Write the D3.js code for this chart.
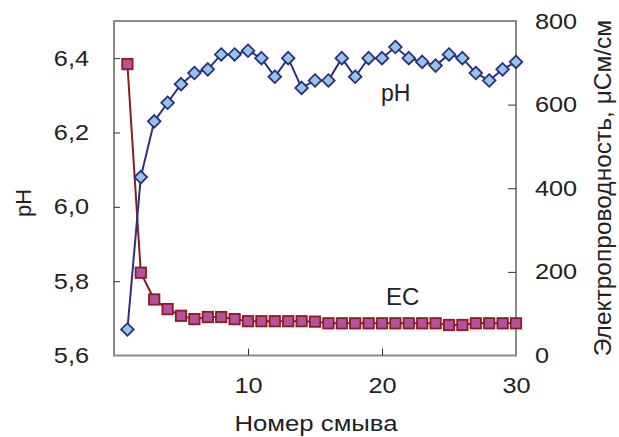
<!DOCTYPE html>
<html>
<head>
<meta charset="utf-8">
<script src="https://cdn.jsdelivr.net/npm/d3@7"></script>
<style>
  html, body { margin: 0; padding: 0; background: #fff; }
  svg text { font-family: "Liberation Sans", Arial, sans-serif; fill: #222; }
</style>
</head>
<body>
<svg id="chart" width="619" height="437"></svg>
<script>
// Rinse number (номер смыва)
const rinse = d3.range(1, 31);
// pH after each rinse
const phValues = [5.67, 6.08, 6.23, 6.28, 6.33, 6.36, 6.37, 6.41, 6.41, 6.42,
                  6.40, 6.35, 6.40, 6.32, 6.34, 6.34, 6.40, 6.35, 6.40, 6.40,
                  6.43, 6.40, 6.39, 6.38, 6.41, 6.40, 6.36, 6.34, 6.37, 6.39];
// Electrical conductivity, µS/cm
const ecValues = [697, 198, 134, 111, 95, 87, 92, 92, 87, 82,
                  82, 82, 82, 82, 81, 77, 77, 77, 77, 77,
                  77, 77, 77, 77, 73, 73, 77, 77, 77, 77];
const xTicks = [10, 20, 30];
const phTicks = [5.6, 5.8, 6.0, 6.2, 6.4];
const ecTicks = [0, 200, 400, 600, 800];

const svg = d3.select("#chart");
const m = { left: 114, right: 516, top: 21, bottom: 355.5 };

const x = d3.scaleLinear().domain([0, 30]).range([m.left, m.right]);
const yPh = d3.scaleLinear().domain([5.6, 6.5]).range([m.bottom, m.top]);
const yEc = d3.scaleLinear().domain([0, 800]).range([m.bottom, m.top]);

const axisColor = "#8a8a8a";
const wide = 1.15; // horizontal widening of the label lettering
const fmtPh = v => d3.format(".1f")(v).replace(".", ",");

// Frame
svg.append("rect")
  .attr("x", m.left).attr("y", m.top)
  .attr("width", m.right - m.left).attr("height", m.bottom - m.top)
  .attr("fill", "none").attr("stroke", axisColor).attr("stroke-width", 2);

// Axes with inward ticks and widened labels
const styleAxis = g => {
  g.select(".domain").remove();
  g.selectAll(".tick line").attr("stroke", "#333").attr("stroke-width", 1);
  g.selectAll(".tick text")
    .attr("font-size", 22).attr("fill", "#222")
    .attr("font-family", "Liberation Sans, Arial, sans-serif")
    .each(function () {
      const t = d3.select(this);
      const tx = +t.attr("x") || 0;
      t.attr("x", tx / wide).attr("transform", `scale(${wide},1)`);
    });
};

svg.append("g")
  .attr("transform", `translate(0,${m.bottom})`)
  .call(d3.axisBottom(x).tickValues(xTicks).tickSizeInner(-7).tickSizeOuter(0).tickPadding(22))
  .call(g => g.selectAll(".tick").filter(d => d === 30).select("line").remove())
  .call(styleAxis);

svg.append("g")
  .attr("transform", `translate(${m.left},0)`)
  .call(d3.axisLeft(yPh).tickValues(phTicks).tickFormat(fmtPh).tickSizeInner(-6).tickSizeOuter(0).tickPadding(25))
  .call(g => g.selectAll(".tick").filter(d => d === 5.6).select("line").remove())
  .call(styleAxis);

svg.append("g")
  .attr("transform", `translate(${m.right},0)`)
  .call(d3.axisRight(yEc).tickValues(ecTicks).tickSizeInner(-8).tickSizeOuter(0).tickPadding(19))
  .call(g => g.selectAll(".tick").filter(d => d === 0 || d === 800).select("line").remove())
  .call(styleAxis);

// EC series
const ecData = rinse.map((r, i) => ({ r, v: ecValues[i] }));
svg.append("path")
  .datum(ecData)
  .attr("fill", "none").attr("stroke", "#8c1c24").attr("stroke-width", 2)
  .attr("d", d3.line().x(d => x(d.r)).y(d => yEc(d.v)));
svg.append("g").selectAll("rect")
  .data(ecData).join("rect")
  .attr("x", d => x(d.r) - 5.2).attr("y", d => yEc(d.v) - 5.2)
  .attr("width", 10.4).attr("height", 10.4)
  .attr("fill", "#b5529f").attr("stroke", "#8c1c24").attr("stroke-width", 1.8);

// pH series
const phData = rinse.map((r, i) => ({ r, v: phValues[i] }));
svg.append("path")
  .datum(phData)
  .attr("fill", "none").attr("stroke", "#2c2f7e").attr("stroke-width", 2)
  .attr("d", d3.line().x(d => x(d.r)).y(d => yPh(d.v)));
svg.append("g").selectAll("path")
  .data(phData).join("path")
  .attr("transform", d => `translate(${x(d.r)},${yPh(d.v)})`)
  .attr("d", "M0,-6.3L6.3,0L0,6.3L-6.3,0Z")
  .attr("fill", "#93c6ec").attr("stroke", "#2c2f7e").attr("stroke-width", 1.8);

// Series labels
svg.append("text").attr("x", 381).attr("y", 101).attr("font-size", 23).text("pH");
svg.append("text").attr("x", 386).attr("y", 305).attr("font-size", 24).text("EC");

// Axis titles
svg.append("text")
  .attr("transform", `translate(316,431) scale(${wide + 0.02},1)`)
  .attr("text-anchor", "middle").attr("font-size", 22).text("Номер смыва");
svg.append("text")
  .attr("transform", "translate(31,203) rotate(-90)")
  .attr("text-anchor", "middle").attr("font-size", 22).text("pH");
svg.append("text")
  .attr("transform", "translate(611,188) rotate(-90)")
  .attr("text-anchor", "middle").attr("font-size", 24.5).text("Электропроводность, μСм/см");
</script>
</body>
</html>
